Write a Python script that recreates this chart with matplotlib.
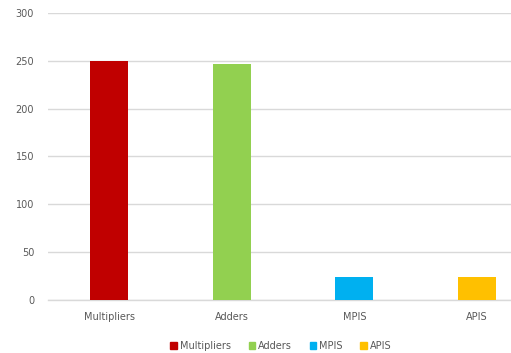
import matplotlib.pyplot as plt
from matplotlib.patches import Patch

# chart values
categories = ["Multipliers", "Adders", "MPIS", "APIS"]
values = [250, 247, 24, 24]
colors = ["#C00000", "#92D050", "#00B0F0", "#FFC000"]
yticks = [0, 50, 100, 150, 200, 250, 300]

fig = plt.figure(figsize=(5.11, 3.53), dpi=100)
ax = fig.add_axes([48 / 511, 53 / 353, 490 / 511, 287 / 353])

x = range(len(categories))
ax.bar(x, values, width=0.31, color=colors, zorder=3)

ax.set_xlim(-0.5, len(categories) - 0.5)
ax.set_ylim(0, 300)
ax.set_yticks(yticks)
ax.set_xticks(list(x))
ax.set_xticklabels(categories)
ax.grid(axis="y", color="#D9D9D9", linewidth=1, zorder=0)
ax.axhline(0, color="#D9D9D9", linewidth=1, zorder=2, clip_on=False)
for s in ax.spines.values():
    s.set_visible(False)
ax.tick_params(length=0, labelsize=7, colors="#595959")
ax.tick_params(axis="y", pad=10)
ax.tick_params(axis="x", pad=9)

handles = [Patch(color=c) for c in colors]
fig.legend(handles, categories, loc="center", bbox_to_anchor=(281 / 511, 1 - 346 / 353),
           ncol=4, frameon=False, fontsize=7, handlelength=0.7, handleheight=0.7,
           handletextpad=0.3, columnspacing=1.8, labelcolor="#595959")

fig.savefig("out.png", dpi=100)
